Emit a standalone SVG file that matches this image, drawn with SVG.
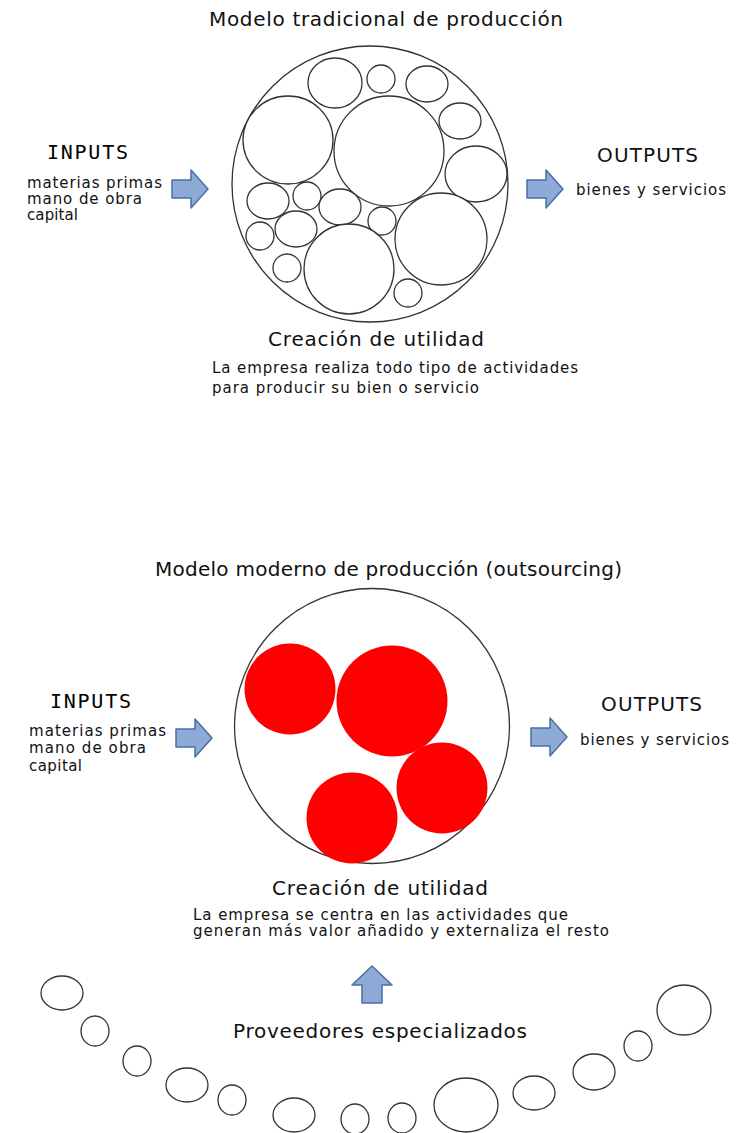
<svg xmlns="http://www.w3.org/2000/svg" width="749" height="1133" viewBox="0 0 749 1133">
<style>
text{font-family:"DejaVu Sans",Verdana,sans-serif;fill:#111}
.t{font-size:20px}
.h{font-size:20px}
.m{font-family:"DejaVu Sans Mono",monospace;font-size:20px;fill:#000}
.s{font-size:15px}
.o{fill:#fff;stroke:#333;stroke-width:1.3}
.r{fill:#ff0000}
.a{fill:#8eaad6;stroke:#4a6fa5;stroke-width:1.5;stroke-linejoin:round}
</style>
<rect width="749" height="1133" fill="#fff"/>
<g id="top-model">
<text class="t" x="209" y="26" textLength="354" lengthAdjust="spacing">Modelo tradicional de producción</text>
<circle class="o" cx="370" cy="184" r="138"/>
<ellipse class="o" cx="335" cy="83" rx="27" ry="25"/>
<circle class="o" cx="381" cy="79" r="14"/>
<ellipse class="o" cx="427" cy="84" rx="21" ry="18"/>
<ellipse class="o" cx="460" cy="121" rx="21" ry="18"/>
<ellipse class="o" cx="288" cy="140" rx="45" ry="44"/>
<circle class="o" cx="389" cy="151" r="55"/>
<ellipse class="o" cx="476" cy="174" rx="31" ry="28"/>
<ellipse class="o" cx="268" cy="201" rx="21" ry="18"/>
<circle class="o" cx="307" cy="196" r="14"/>
<ellipse class="o" cx="340" cy="207" rx="21" ry="18"/>
<circle class="o" cx="382" cy="221" r="14"/>
<circle class="o" cx="441" cy="239" r="46"/>
<circle class="o" cx="260" cy="236" r="14"/>
<ellipse class="o" cx="296" cy="229" rx="21" ry="18"/>
<circle class="o" cx="287" cy="268" r="14"/>
<circle class="o" cx="349" cy="269" r="45"/>
<circle class="o" cx="408" cy="293" r="14"/>
</g>
<g id="top-inputs">
<text class="m" x="47" y="159" textLength="81" lengthAdjust="spacing">INPUTS</text>
<text class="s" x="27" y="188" textLength="135" lengthAdjust="spacing">materias primas</text>
<text class="s" x="27" y="204" textLength="115" lengthAdjust="spacing">mano de obra</text>
<text class="s" x="27" y="220" textLength="51" lengthAdjust="spacing">capital</text>
</g>
<g id="top-outputs">
<text class="h" x="597" y="162" textLength="101" lengthAdjust="spacing">OUTPUTS</text>
<text class="s" x="576" y="195" textLength="150" lengthAdjust="spacing">bienes y servicios</text>
</g>
<g id="top-utility">
<text class="h" x="268" y="346" textLength="216" lengthAdjust="spacing">Creación de utilidad</text>
<text class="s" x="212" y="373" textLength="366" lengthAdjust="spacing">La empresa realiza todo tipo de actividades</text>
<text class="s" x="212" y="393" textLength="267" lengthAdjust="spacing">para producir su bien o servicio</text>
</g>
<g id="bottom-model">
<text class="t" x="155" y="576" textLength="467" lengthAdjust="spacing">Modelo moderno de producción (outsourcing)</text>
<circle class="o" cx="372" cy="726" r="137.5"/>
<circle class="r" cx="290" cy="689" r="45.5"/>
<circle class="r" cx="392" cy="701" r="55.5"/>
<circle class="r" cx="442" cy="788" r="45.5"/>
<circle class="r" cx="352" cy="818" r="45.5"/>
</g>
<g id="bottom-inputs">
<text class="m" x="50" y="708" textLength="81" lengthAdjust="spacing">INPUTS</text>
<text class="s" x="29" y="736" textLength="137" lengthAdjust="spacing">materias primas</text>
<text class="s" x="29" y="753" textLength="117" lengthAdjust="spacing">mano de obra</text>
<text class="s" x="29" y="771" textLength="53" lengthAdjust="spacing">capital</text>
</g>
<g id="bottom-outputs">
<text class="h" x="601" y="711" textLength="101" lengthAdjust="spacing">OUTPUTS</text>
<text class="s" x="580" y="745" textLength="149" lengthAdjust="spacing">bienes y servicios</text>
</g>
<g id="bottom-utility">
<text class="h" x="272" y="895" textLength="216" lengthAdjust="spacing">Creación de utilidad</text>
<text class="s" x="193" y="920" textLength="375" lengthAdjust="spacing">La empresa se centra en las actividades que</text>
<text class="s" x="193" y="936" textLength="416" lengthAdjust="spacing">generan más valor añadido y externaliza el resto</text>
</g>
<g id="suppliers">
<text class="h" x="233" y="1038" textLength="294" lengthAdjust="spacing">Proveedores especializados</text>
<ellipse class="o" cx="62" cy="993" rx="21" ry="17"/>
<ellipse class="o" cx="95" cy="1031" rx="14" ry="15"/>
<ellipse class="o" cx="137" cy="1061" rx="14" ry="15"/>
<ellipse class="o" cx="187" cy="1085" rx="21" ry="17"/>
<ellipse class="o" cx="232" cy="1100" rx="14" ry="15"/>
<ellipse class="o" cx="294" cy="1115" rx="21" ry="17"/>
<ellipse class="o" cx="355" cy="1119" rx="14" ry="15"/>
<ellipse class="o" cx="402" cy="1118" rx="14" ry="15"/>
<ellipse class="o" cx="466" cy="1105" rx="32" ry="27"/>
<ellipse class="o" cx="534" cy="1093" rx="21" ry="17"/>
<ellipse class="o" cx="594" cy="1072" rx="21" ry="18"/>
<ellipse class="o" cx="638" cy="1046" rx="14" ry="15"/>
<ellipse class="o" cx="684" cy="1010" rx="27" ry="25"/>
</g>
<g id="connectors">
<path class="a" d="M172,180 H191 V170 L208,189 L191,208 V198 H172 Z"/>
<path class="a" d="M527,180 H546 V170 L563,189 L546,208 V198 H527 Z"/>
<path class="a" d="M176,729 H195 V719 L212,738 L195,757 V747 H176 Z"/>
<path class="a" d="M531,728 H550 V718 L567,737 L550,756 V746 H531 Z"/>
<path class="a" d="M362,1003 V985 H352 L372,966 L392,985 H382 V1003 Z"/>
</g>
</svg>
